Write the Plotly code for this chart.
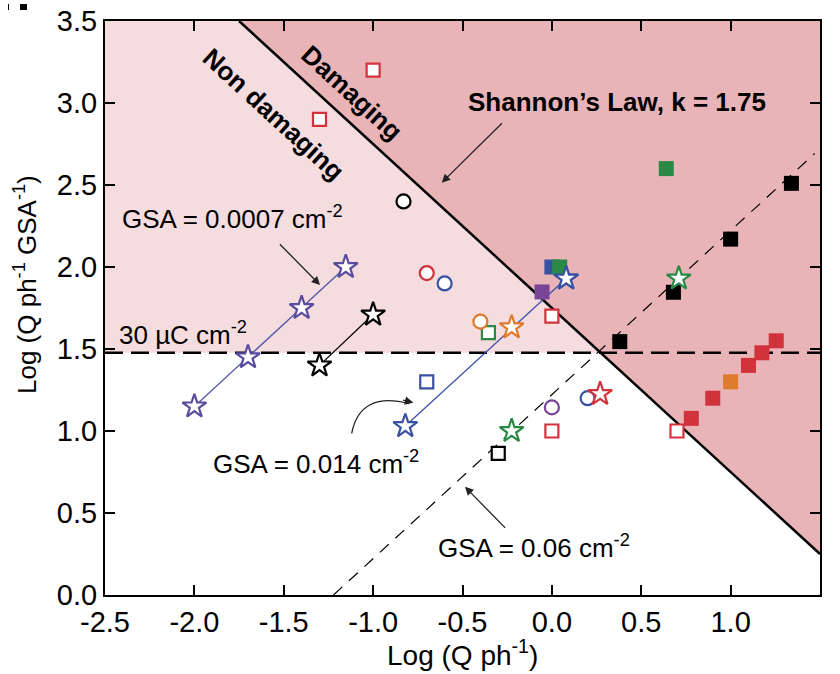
import numpy as np
import plotly.graph_objects as go

# ---------------- data ----------------
K = 1.75                      # Shannon's law constant
THRESH = np.log10(30)         # 30 uC cm-2 line
GSA_LINES = [0.0007, 0.014, 0.06]
GSA06_X_END = 1.47

# squares
red_open_sq_x = [-1.30, -1.00, 0.00, 0.00, 0.70]
red_open_sq_y = [2.90, 3.20, 1.70, 1.00, 1.00]
red_sq_x = [0.78, 0.90, 1.10, 1.175, 1.255]
red_sq_y = [1.077, 1.20, 1.40, 1.477, 1.55]
orange_sq_x = [1.00]
orange_sq_y = [1.30]
black_sq_x = [0.38, 0.68, 1.00, 1.34]
black_sq_y = [1.545, 1.846, 2.17, 2.51]
black_open_sq_x = [-0.30]
black_open_sq_y = [0.864]
blue_sq_x = [0.00]
blue_sq_y = [2.00]
green_sq_x = [0.044, 0.64]
green_sq_y = [2.00, 2.60]
purple_sq_x = [-0.055]
purple_sq_y = [1.848]
blue_open_sq_x = [-0.70]
blue_open_sq_y = [1.30]
green_open_sq_x = [-0.355]
green_open_sq_y = [1.60]

# circles
red_circ_x = [-0.70]
red_circ_y = [1.963]
blue_circ_x = [-0.60, 0.20]
blue_circ_y = [1.90, 1.20]
black_circ_x = [-0.83]
black_circ_y = [2.40]
orange_circ_x = [-0.40]
orange_circ_y = [1.667]
purple_circ_x = [0.00]
purple_circ_y = [1.144]

# stars
purple_star_x = [-2.00, -1.70, -1.40, -1.153]
purple_star_y = [1.15, 1.45, 1.75, 2.00]
blue_star_x = [-0.82, 0.08]
blue_star_y = [1.03, 1.93]
black_star_x = [-1.30, -1.00]
black_star_y = [1.40, 1.71]
orange_star_x = [-0.225]
orange_star_y = [1.632]
green_star_x = [-0.225, 0.71]
green_star_y = [1.00, 1.93]
red_star_x = [0.27]
red_star_y = [1.226]

XMIN, XMAX, YMIN, YMAX = -2.5, 1.5, 0.0, 3.5
x_ticks = [-2.5, -2.0, -1.5, -1.0, -0.5, 0.0, 0.5, 1.0, 1.5]
y_ticks = [0.0, 0.5, 1.0, 1.5, 2.0, 2.5, 3.0, 3.5]

# ---------------- styles ----------------
RED = "#d1323c"
ORANGE = "#de7b2d"
GREEN = "#2a8a45"
BLUE = "#3951a3"
PURPLE = "#7a4497"
INDIGO = "#5a4b9e"
LIGHT_PINK = "#f4dcdf"
DARK_PINK = "#e8b4b8"
FONT = "Liberation Sans, Arial, sans-serif"

fig = go.Figure()

# background regions
xs_top = K - YMAX
fig.add_trace(go.Scatter(
    x=[XMIN, XMIN, xs_top, K - THRESH, XMIN],
    y=[THRESH, YMAX, YMAX, THRESH, THRESH],
    fill="toself", fillcolor=LIGHT_PINK, line=dict(width=0),
    mode="lines", hoverinfo="skip", showlegend=False))
fig.add_trace(go.Scatter(
    x=[xs_top, XMAX, XMAX, xs_top],
    y=[YMAX, YMAX, K - XMAX, YMAX],
    fill="toself", fillcolor=DARK_PINK, line=dict(width=0),
    mode="lines", hoverinfo="skip", showlegend=False))

# Shannon line
fig.add_trace(go.Scatter(x=[xs_top, XMAX], y=[YMAX, K - XMAX], mode="lines",
                         line=dict(color="black", width=2.5), showlegend=False))
# 30 uC line
fig.add_trace(go.Scatter(x=[XMIN, XMAX + 0.02], y=[THRESH, THRESH], mode="lines",
                         line=dict(color="black", width=2.5, dash="18px,8px"),
                         showlegend=False, cliponaxis=False))
# GSA = 0.06 dashed line
g = GSA_LINES[2]
x0 = np.log10(g)
fig.add_trace(go.Scatter(x=[x0, GSA06_X_END], y=[x0 - np.log10(g), GSA06_X_END - np.log10(g)],
                         mode="lines", line=dict(color="black", width=1.2, dash="12px,9px"),
                         showlegend=False))


def add(xv, yv, symbol, color, size, filled, mode="markers", line_color=None, lw=2.2):
    marker = dict(symbol=symbol, size=size,
                  color=color if filled else "white",
                  line=dict(color=color, width=0 if filled else lw))
    kw = {}
    if line_color:
        kw["line"] = dict(color=line_color, width=1.3)
    fig.add_trace(go.Scatter(x=xv, y=yv, mode=mode, marker=marker, showlegend=False,
                             cliponaxis=False, **kw))


STAR = 18
# star lines
add(purple_star_x, purple_star_y, "star", INDIGO, STAR, False, mode="lines+markers", line_color="#5458a8")
add(blue_star_x, blue_star_y, "star", BLUE, STAR, False, mode="lines+markers", line_color="#3b50a8")
add(black_star_x, black_star_y, "star", "black", STAR, False, mode="lines+markers", line_color="black")

# squares
add(red_open_sq_x, red_open_sq_y, "square", RED, 13, False)
add(red_sq_x, red_sq_y, "square", RED, 15, True)
add(orange_sq_x, orange_sq_y, "square", ORANGE, 15, True)
add(black_sq_x, black_sq_y, "square", "black", 15, True)
add(black_open_sq_x, black_open_sq_y, "square", "black", 13, False)
add(blue_sq_x, blue_sq_y, "square", BLUE, 15, True)
add(green_sq_x, green_sq_y, "square", GREEN, 15, True)
add(purple_sq_x, purple_sq_y, "square", PURPLE, 15, True)
add(blue_open_sq_x, blue_open_sq_y, "square", BLUE, 13, False)
add(green_open_sq_x, green_open_sq_y, "square", GREEN, 13, False)

# circles
add(red_circ_x, red_circ_y, "circle", RED, 14, False)
add(blue_circ_x, blue_circ_y, "circle", BLUE, 14, False)
add(black_circ_x, black_circ_y, "circle", "black", 14, False)
add(orange_circ_x, orange_circ_y, "circle", ORANGE, 14, False)
add(purple_circ_x, purple_circ_y, "circle", PURPLE, 14, False)

# single stars
add(orange_star_x, orange_star_y, "star", ORANGE, STAR, False)
add(green_star_x, green_star_y, "star", GREEN, STAR, False)
add(red_star_x, red_star_y, "star", RED, STAR, False)

# re-draw blue star on top
add(blue_star_x[1:], blue_star_y[1:], "star", BLUE, STAR, False)

ann = []
tf = dict(family=FONT, size=26, color="black")
bf = dict(family=FONT, size=26, color="black")
ann.append(dict(x=-1.56, y=2.93, text="<b>Non damaging</b>", textangle=42.5, showarrow=False, font=bf))
ann.append(dict(x=-1.118, y=3.06, text="<b>Damaging</b>", textangle=42.5, showarrow=False, font=bf))
ann.append(dict(x=0.367, y=3.008, text="<b>Shannon\u2019s Law, k = 1.75</b>", showarrow=False, font=bf))
ann.append(dict(x=-0.616, y=2.514, ax=-0.271, ay=2.886, axref="x", ayref="y", text="",
                showarrow=True, arrowhead=2, arrowsize=1.3, arrowwidth=1.3, arrowcolor="#222"))
ann.append(dict(x=-1.784, y=2.30, text="GSA = 0.0007 cm<sup>-2</sup>", showarrow=False, font=tf))
ann.append(dict(x=-1.297, y=1.89, ax=-1.53, ay=2.148, axref="x", ayref="y", text="",
                showarrow=True, arrowhead=2, arrowsize=1.3, arrowwidth=1.3, arrowcolor="#222"))
ann.append(dict(x=-2.433, y=1.596, text="30 \u00b5C cm<sup>-2</sup>", showarrow=False, xanchor="left", font=tf))
ann.append(dict(x=-1.32, y=0.81, text="GSA = 0.014 cm<sup>-2</sup>", showarrow=False, font=tf))
ann.append(dict(x=-0.775, y=1.173, ax=-11.7, ay=-2.8, text="",
                showarrow=True, arrowhead=2, arrowsize=1.3, arrowwidth=1.3, arrowcolor="#222"))
ann.append(dict(x=-0.10, y=0.295, text="GSA = 0.06 cm<sup>-2</sup>", showarrow=False, font=tf))
ann.append(dict(x=-0.486, y=0.66, ax=-0.253, ay=0.40, axref="x", ayref="y", text="",
                showarrow=True, arrowhead=2, arrowsize=1.3, arrowwidth=1.3, arrowcolor="#222"))
# axis titles
ann.append(dict(x=-0.5, y=0, xref="x", yref="paper", yshift=-58, yanchor="middle",
                text="Log (Q ph<sup>-1</sup>)",
                showarrow=False, font=dict(family=FONT, size=28, color="black")))
ann.append(dict(x=0, y=1.89, xref="paper", yref="y", xshift=-80, xanchor="center", yanchor="middle",
                textangle=-90, text="Log (Q ph<sup>-1</sup> GSA<sup>-1</sup>)",
                showarrow=False, font=dict(family=FONT, size=26, color="black")))

shapes = [
    dict(type="path", xref="x", yref="y",
         path="M -1.12,0.986 Q -1.073,1.244 -0.80,1.167",
         line=dict(color="#222", width=1.3)),
    # top-left artifacts
    dict(type="rect", xref="paper", yref="paper", xsizemode="pixel", ysizemode="pixel",
         xanchor=0, yanchor=1, x0=-97, x1=-96, y0=11, y1=17, fillcolor="black", line=dict(width=0)),
    dict(type="rect", xref="paper", yref="paper", xsizemode="pixel", ysizemode="pixel",
         xanchor=0, yanchor=1, x0=-85, x1=-78, y0=11, y1=17, fillcolor="black", line=dict(width=0)),
]

axis_common = dict(showgrid=False, zeroline=False, showline=True, linecolor="black", linewidth=2,
                   mirror="allticks", ticks="inside", ticklen=10, tickwidth=2, tickcolor="black",
                   automargin=False,
                   tickfont=dict(family=FONT, size=29, color="black"))
fig.update_layout(
    width=840, height=674,
    margin=dict(l=105, r=20, t=21, b=79),
    plot_bgcolor="white", paper_bgcolor="white",
    xaxis=dict(range=[XMIN, XMAX], tickvals=x_ticks, ticktext=[f"{v:.1f}" for v in x_ticks], **axis_common),
    yaxis=dict(range=[YMIN, YMAX], tickvals=y_ticks, ticktext=[f"{v:.1f}" for v in y_ticks], **axis_common),
    annotations=ann, shapes=shapes, showlegend=False,
)

fig.write_html("out.html")
